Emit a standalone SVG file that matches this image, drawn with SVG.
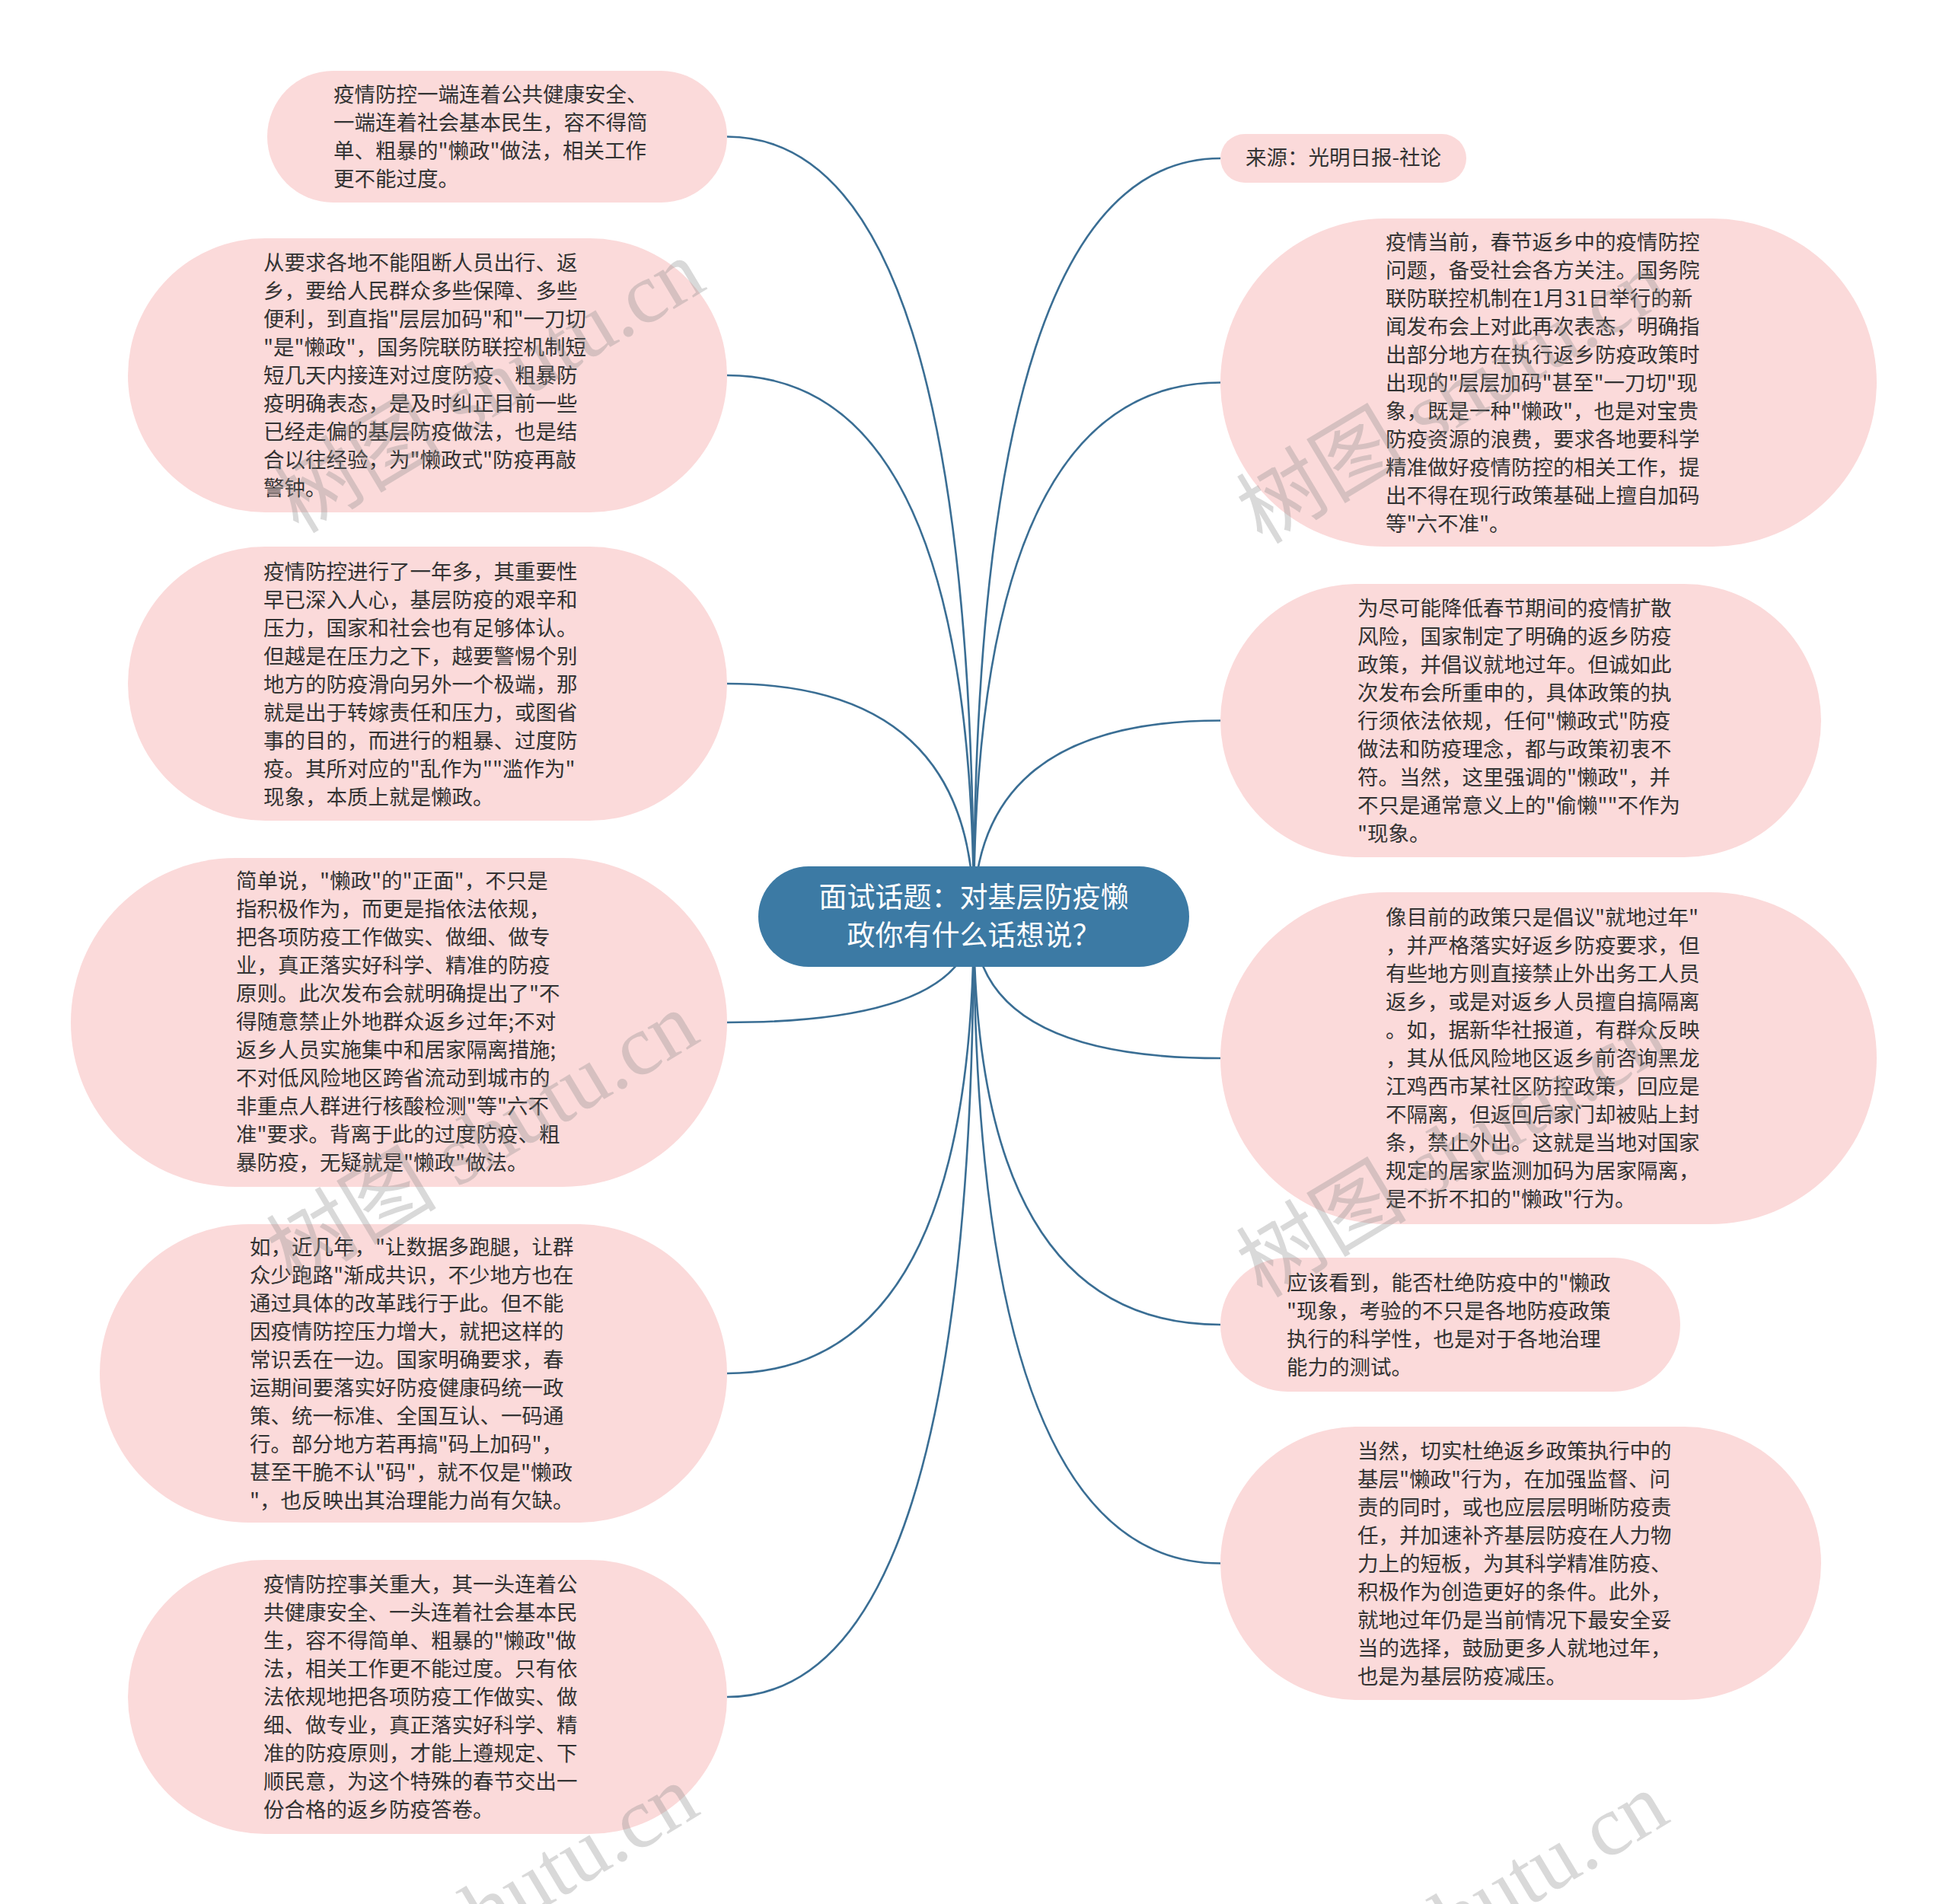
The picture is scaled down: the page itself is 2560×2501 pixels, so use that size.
<svg xmlns="http://www.w3.org/2000/svg" width="2560" height="2501" viewBox="0 0 2560 2501">
<defs>
<style>
.bg{fill:#ffffff}
.node rect{fill:#fbdada}
.node text{font-family:"Noto Sans CJK SC","Noto Sans",sans-serif;font-size:27.5px;fill:#333333}
.center rect{fill:#3c7aa4}
.center text{font-family:"Noto Sans CJK SC","Noto Sans",sans-serif;font-size:37px;fill:#ffffff;text-anchor:middle}
.conn path{fill:none;stroke:#3a6e94;stroke-width:2.6}
.wm text{font-size:112px;fill:#8a8a8a;opacity:0.32}
.wm .cn{font-family:"Noto Sans CJK SC",sans-serif}
.wm .en{font-family:"Liberation Serif",serif}
</style>
</defs>
<rect class="bg" x="0" y="0" width="2560" height="2501"/>
<g id="connectors" class="conn">
<path d="M1279,1204 Q1279,179.5 955,179.5"/>
<path d="M1279,1204 Q1279,493 955,493"/>
<path d="M1279,1204 Q1279,898 955,898"/>
<path d="M1279,1204 Q1279,1343 955,1343"/>
<path d="M1279,1204 Q1279,1804 955,1804"/>
<path d="M1279,1204 Q1279,2229 955,2229"/>
<path d="M1279,1204 Q1279,208 1603,208"/>
<path d="M1279,1204 Q1279,502.5 1603,502.5"/>
<path d="M1279,1204 Q1279,946.5 1603,946.5"/>
<path d="M1279,1204 Q1279,1390 1603,1390"/>
<path d="M1279,1204 Q1279,1740 1603,1740"/>
<path d="M1279,1204 Q1279,2053.5 1603,2053.5"/>
</g>
<g id="center" class="center">
<rect x="996" y="1138" width="566" height="132" rx="66" ry="66"/>
<text x="1279" y="1192">面试话题：对基层防疫懒</text>
<text x="1279" y="1242">政你有什么话想说？</text>
</g>
<g id="node1" class="node">
<rect x="351" y="93" width="604" height="173" rx="86.5" ry="86.5"/>
<text x="438" y="133.5"><tspan x="438">疫情防控一端连着公共健康安全、</tspan><tspan x="438" dy="37">一端连着社会基本民生，容不得简</tspan><tspan x="438" dy="37">单、粗暴的"懒政"做法，相关工作</tspan><tspan x="438" dy="37">更不能过度。</tspan></text>
</g>
<g id="node2" class="node">
<rect x="168" y="313" width="787" height="360" rx="180" ry="180"/>
<text x="346" y="355"><tspan x="346">从要求各地不能阻断人员出行、返</tspan><tspan x="346" dy="37">乡，要给人民群众多些保障、多些</tspan><tspan x="346" dy="37">便利，到直指"层层加码"和"一刀切</tspan><tspan x="346" dy="37">"是"懒政"，国务院联防联控机制短</tspan><tspan x="346" dy="37">短几天内接连对过度防疫、粗暴防</tspan><tspan x="346" dy="37">疫明确表态，是及时纠正目前一些</tspan><tspan x="346" dy="37">已经走偏的基层防疫做法，也是结</tspan><tspan x="346" dy="37">合以往经验，为"懒政式"防疫再敲</tspan><tspan x="346" dy="37">警钟。</tspan></text>
</g>
<g id="node3" class="node">
<rect x="168" y="718" width="787" height="360" rx="180" ry="180"/>
<text x="346" y="761"><tspan x="346">疫情防控进行了一年多，其重要性</tspan><tspan x="346" dy="37">早已深入人心，基层防疫的艰辛和</tspan><tspan x="346" dy="37">压力，国家和社会也有足够体认。</tspan><tspan x="346" dy="37">但越是在压力之下，越要警惕个别</tspan><tspan x="346" dy="37">地方的防疫滑向另外一个极端，那</tspan><tspan x="346" dy="37">就是出于转嫁责任和压力，或图省</tspan><tspan x="346" dy="37">事的目的，而进行的粗暴、过度防</tspan><tspan x="346" dy="37">疫。其所对应的"乱作为""滥作为"</tspan><tspan x="346" dy="37">现象，本质上就是懒政。</tspan></text>
</g>
<g id="node4" class="node">
<rect x="93" y="1127" width="862" height="432" rx="216" ry="216"/>
<text x="310" y="1167"><tspan x="310">简单说，"懒政"的"正面"，不只是</tspan><tspan x="310" dy="37">指积极作为，而更是指依法依规，</tspan><tspan x="310" dy="37">把各项防疫工作做实、做细、做专</tspan><tspan x="310" dy="37">业，真正落实好科学、精准的防疫</tspan><tspan x="310" dy="37">原则。此次发布会就明确提出了"不</tspan><tspan x="310" dy="37">得随意禁止外地群众返乡过年;不对</tspan><tspan x="310" dy="37">返乡人员实施集中和居家隔离措施;</tspan><tspan x="310" dy="37">不对低风险地区跨省流动到城市的</tspan><tspan x="310" dy="37">非重点人群进行核酸检测"等"六不</tspan><tspan x="310" dy="37">准"要求。背离于此的过度防疫、粗</tspan><tspan x="310" dy="37">暴防疫，无疑就是"懒政"做法。</tspan></text>
</g>
<g id="node5" class="node">
<rect x="131" y="1608" width="824" height="392" rx="196" ry="196"/>
<text x="328" y="1647.5"><tspan x="328">如，近几年，"让数据多跑腿，让群</tspan><tspan x="328" dy="37">众少跑路"渐成共识，不少地方也在</tspan><tspan x="328" dy="37">通过具体的改革践行于此。但不能</tspan><tspan x="328" dy="37">因疫情防控压力增大，就把这样的</tspan><tspan x="328" dy="37">常识丢在一边。国家明确要求，春</tspan><tspan x="328" dy="37">运期间要落实好防疫健康码统一政</tspan><tspan x="328" dy="37">策、统一标准、全国互认、一码通</tspan><tspan x="328" dy="37">行。部分地方若再搞"码上加码"，</tspan><tspan x="328" dy="37">甚至干脆不认"码"，就不仅是"懒政</tspan><tspan x="328" dy="37">"，也反映出其治理能力尚有欠缺。</tspan></text>
</g>
<g id="node6" class="node">
<rect x="168" y="2049" width="787" height="360" rx="180" ry="180"/>
<text x="346" y="2091"><tspan x="346">疫情防控事关重大，其一头连着公</tspan><tspan x="346" dy="37">共健康安全、一头连着社会基本民</tspan><tspan x="346" dy="37">生，容不得简单、粗暴的"懒政"做</tspan><tspan x="346" dy="37">法，相关工作更不能过度。只有依</tspan><tspan x="346" dy="37">法依规地把各项防疫工作做实、做</tspan><tspan x="346" dy="37">细、做专业，真正落实好科学、精</tspan><tspan x="346" dy="37">准的防疫原则，才能上遵规定、下</tspan><tspan x="346" dy="37">顺民意，为这个特殊的春节交出一</tspan><tspan x="346" dy="37">份合格的返乡防疫答卷。</tspan></text>
</g>
<g id="node7" class="node">
<rect x="1603" y="176" width="323" height="64" rx="32" ry="32"/>
<text x="1636" y="217">来源：光明日报-社论</text>
</g>
<g id="node8" class="node">
<rect x="1603" y="287" width="862" height="431" rx="215.5" ry="215.5"/>
<text x="1820" y="328"><tspan x="1820">疫情当前，春节返乡中的疫情防控</tspan><tspan x="1820" dy="37">问题，备受社会各方关注。国务院</tspan><tspan x="1820" dy="37">联防联控机制在1月31日举行的新</tspan><tspan x="1820" dy="37">闻发布会上对此再次表态，明确指</tspan><tspan x="1820" dy="37">出部分地方在执行返乡防疫政策时</tspan><tspan x="1820" dy="37">出现的"层层加码"甚至"一刀切"现</tspan><tspan x="1820" dy="37">象，既是一种"懒政"，也是对宝贵</tspan><tspan x="1820" dy="37">防疫资源的浪费，要求各地要科学</tspan><tspan x="1820" dy="37">精准做好疫情防控的相关工作，提</tspan><tspan x="1820" dy="37">出不得在现行政策基础上擅自加码</tspan><tspan x="1820" dy="37">等"六不准"。</tspan></text>
</g>
<g id="node9" class="node">
<rect x="1603" y="767" width="789" height="359" rx="179.5" ry="179.5"/>
<text x="1783" y="809"><tspan x="1783">为尽可能降低春节期间的疫情扩散</tspan><tspan x="1783" dy="37">风险，国家制定了明确的返乡防疫</tspan><tspan x="1783" dy="37">政策，并倡议就地过年。但诚如此</tspan><tspan x="1783" dy="37">次发布会所重申的，具体政策的执</tspan><tspan x="1783" dy="37">行须依法依规，任何"懒政式"防疫</tspan><tspan x="1783" dy="37">做法和防疫理念，都与政策初衷不</tspan><tspan x="1783" dy="37">符。当然，这里强调的"懒政"，并</tspan><tspan x="1783" dy="37">不只是通常意义上的"偷懒""不作为</tspan><tspan x="1783" dy="37">"现象。</tspan></text>
</g>
<g id="node10" class="node">
<rect x="1603" y="1172" width="862" height="436" rx="218" ry="218"/>
<text x="1820" y="1215"><tspan x="1820">像目前的政策只是倡议"就地过年"</tspan><tspan x="1820" dy="37">，并严格落实好返乡防疫要求，但</tspan><tspan x="1820" dy="37">有些地方则直接禁止外出务工人员</tspan><tspan x="1820" dy="37">返乡，或是对返乡人员擅自搞隔离</tspan><tspan x="1820" dy="37">。如，据新华社报道，有群众反映</tspan><tspan x="1820" dy="37">，其从低风险地区返乡前咨询黑龙</tspan><tspan x="1820" dy="37">江鸡西市某社区防控政策，回应是</tspan><tspan x="1820" dy="37">不隔离，但返回后家门却被贴上封</tspan><tspan x="1820" dy="37">条，禁止外出。这就是当地对国家</tspan><tspan x="1820" dy="37">规定的居家监测加码为居家隔离，</tspan><tspan x="1820" dy="37">是不折不扣的"懒政"行为。</tspan></text>
</g>
<g id="node11" class="node">
<rect x="1603" y="1652" width="604" height="176" rx="88" ry="88"/>
<text x="1690" y="1694.5"><tspan x="1690">应该看到，能否杜绝防疫中的"懒政</tspan><tspan x="1690" dy="37">"现象，考验的不只是各地防疫政策</tspan><tspan x="1690" dy="37">执行的科学性，也是对于各地治理</tspan><tspan x="1690" dy="37">能力的测试。</tspan></text>
</g>
<g id="node12" class="node">
<rect x="1603" y="1874" width="789" height="359" rx="179.5" ry="179.5"/>
<text x="1783" y="1916"><tspan x="1783">当然，切实杜绝返乡政策执行中的</tspan><tspan x="1783" dy="37">基层"懒政"行为，在加强监督、问</tspan><tspan x="1783" dy="37">责的同时，或也应层层明晰防疫责</tspan><tspan x="1783" dy="37">任，并加速补齐基层防疫在人力物</tspan><tspan x="1783" dy="37">力上的短板，为其科学精准防疫、</tspan><tspan x="1783" dy="37">积极作为创造更好的条件。此外，</tspan><tspan x="1783" dy="37">就地过年仍是当前情况下最安全妥</tspan><tspan x="1783" dy="37">当的选择，鼓励更多人就地过年，</tspan><tspan x="1783" dy="37">也是为基层防疫减压。</tspan></text>
</g>
<g id="watermark" class="wm">
<text transform="translate(392,702) rotate(-31)"><tspan class="cn">树图</tspan><tspan class="en"> shutu.cn</tspan></text>
<text transform="translate(1658,716) rotate(-31)"><tspan class="cn">树图</tspan><tspan class="en"> shutu.cn</tspan></text>
<text transform="translate(384,1690) rotate(-31)"><tspan class="cn">树图</tspan><tspan class="en"> shutu.cn</tspan></text>
<text transform="translate(1658,1706) rotate(-31)"><tspan class="cn">树图</tspan><tspan class="en"> shutu.cn</tspan></text>
<text transform="translate(384,2705) rotate(-31)"><tspan class="cn">树图</tspan><tspan class="en"> shutu.cn</tspan></text>
<text transform="translate(1658,2715) rotate(-31)"><tspan class="cn">树图</tspan><tspan class="en"> shutu.cn</tspan></text>
</g>
</svg>
